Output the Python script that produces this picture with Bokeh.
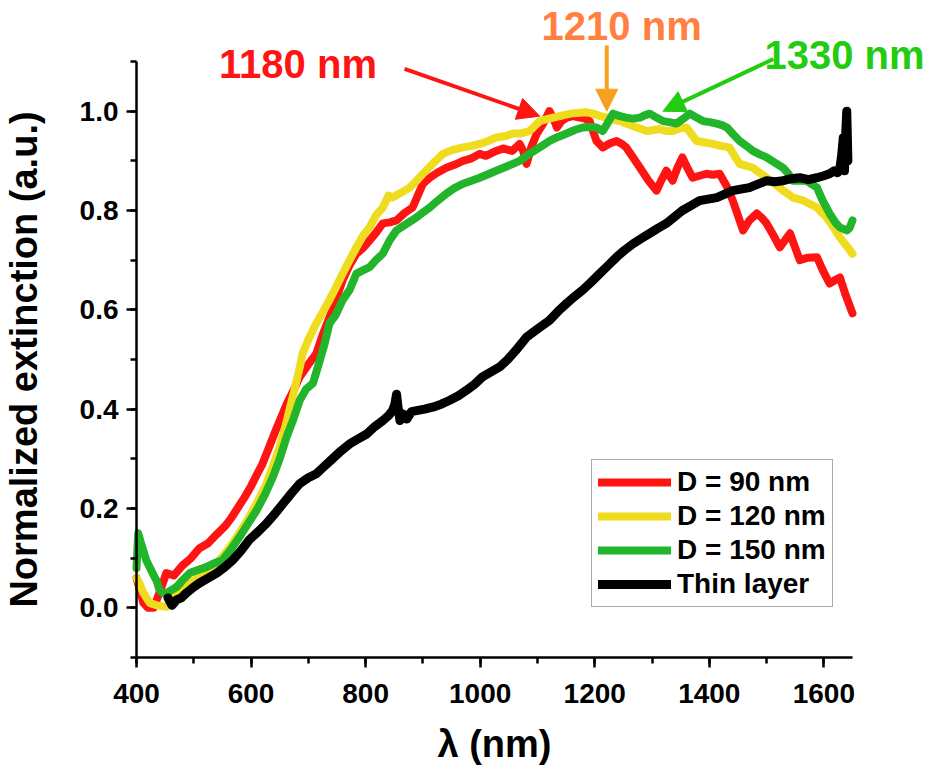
from bokeh.plotting import figure
from bokeh.models import (Range1d, SingleIntervalTicker, NumeralTickFormatter, Legend, LegendItem,
                          Label, Arrow, NormalHead)
from bokeh.embed import file_html
from bokeh.resources import INLINE

# ---------------- data ----------------
red_x = [400, 405, 412, 420, 430, 440, 452, 465, 480, 495, 510, 525, 540, 555, 565, 575, 590, 600, 610, 620,
         632, 644, 655, 662, 675, 685, 700, 714, 725, 737, 748, 760, 772, 784, 796, 807, 818, 830, 842, 854,
         868, 882, 891, 900, 912, 925, 941, 955, 970, 985, 999, 1010, 1028, 1040, 1056, 1069, 1075, 1081, 1090,
         1099, 1110, 1121, 1128, 1134, 1142, 1151, 1162, 1174, 1183, 1191, 1197, 1203, 1214, 1226, 1238, 1246,
         1255, 1265, 1279, 1294, 1308, 1316, 1325, 1336, 1344, 1353, 1362, 1371, 1383, 1395, 1406, 1418, 1430,
         1441, 1450, 1459, 1470, 1483, 1492, 1500, 1512, 1523, 1532, 1541, 1550, 1558, 1572, 1588, 1598, 1610,
         1620, 1628, 1638, 1650]
red_y = [0.06, 0.04, 0.01, 0.0, 0.0, 0.03, 0.07, 0.065, 0.085, 0.10, 0.12, 0.13, 0.148, 0.165, 0.18, 0.198,
         0.225, 0.245, 0.268, 0.29, 0.325, 0.36, 0.39, 0.41, 0.44, 0.465, 0.49, 0.512, 0.55, 0.585, 0.62, 0.66,
         0.69, 0.713, 0.725, 0.74, 0.755, 0.774, 0.776, 0.78, 0.795, 0.806, 0.83, 0.854, 0.866, 0.876, 0.886,
         0.892, 0.90, 0.905, 0.914, 0.91, 0.92, 0.925, 0.92, 0.934, 0.92, 0.894, 0.93, 0.955, 0.975, 1.0, 0.985,
         0.967, 0.98, 0.987, 0.99, 0.987, 0.985, 0.98, 0.96, 0.94, 0.927, 0.935, 0.94, 0.935, 0.927, 0.91, 0.886,
         0.86, 0.84, 0.86, 0.88, 0.86, 0.885, 0.907, 0.885, 0.866, 0.87, 0.874, 0.872, 0.874, 0.85, 0.82, 0.79,
         0.76, 0.78, 0.794, 0.785, 0.774, 0.75, 0.726, 0.74, 0.754, 0.725, 0.70, 0.705, 0.706, 0.68, 0.653, 0.66,
         0.665, 0.63, 0.593]

yel_x = [400, 405, 412, 423, 435, 452, 465, 480, 495, 510, 525, 540, 555, 568, 582, 597, 612, 627, 638, 650,
         660, 667, 676, 685, 690, 702, 714, 725, 737, 748, 760, 772, 784, 796, 807, 818, 830, 840, 847, 862,
         877, 889, 900, 918, 935, 952, 970, 985, 999, 1014, 1028, 1045, 1057, 1069, 1086, 1104, 1120, 1139,
         1157, 1174, 1185, 1197, 1210, 1221, 1232, 1244, 1255, 1267, 1279, 1291, 1303, 1313, 1325, 1336, 1348,
         1360, 1368, 1378, 1392, 1406, 1420, 1435, 1444, 1453, 1465, 1476, 1488, 1500, 1515, 1529, 1538, 1546,
         1556, 1564, 1576, 1588, 1597, 1605, 1617, 1628, 1640, 1650]
yel_y = [0.06, 0.05, 0.03, 0.01, 0.005, 0.002, 0.02, 0.036, 0.05, 0.062, 0.075, 0.09, 0.11, 0.13, 0.155,
         0.183, 0.215, 0.25, 0.285, 0.324, 0.365, 0.398, 0.44, 0.484, 0.512, 0.545, 0.573, 0.595, 0.62, 0.645,
         0.673, 0.70, 0.726, 0.75, 0.766, 0.79, 0.806, 0.83, 0.826, 0.836, 0.846, 0.86, 0.874, 0.895, 0.914,
         0.922, 0.927, 0.93, 0.934, 0.94, 0.947, 0.95, 0.955, 0.955, 0.96, 0.98, 0.985, 0.99, 0.995, 0.997,
         0.998, 0.995, 0.99, 0.987, 0.983, 0.98, 0.975, 0.97, 0.965, 0.96, 0.962, 0.964, 0.96, 0.96, 0.965,
         0.967, 0.955, 0.94, 0.937, 0.934, 0.93, 0.927, 0.91, 0.894, 0.89, 0.886, 0.876, 0.866, 0.853, 0.84,
         0.833, 0.826, 0.823, 0.82, 0.813, 0.806, 0.795, 0.786, 0.766, 0.746, 0.728, 0.713]

grn_x = [400, 403, 408, 417, 428, 435, 440, 446, 452, 460, 470, 480, 493, 507, 522, 536, 550, 565, 580, 595,
         610, 625, 638, 650, 662, 674, 685, 696, 708, 720, 728, 737, 748, 760, 772, 784, 796, 807, 818, 830,
         842, 854, 870, 889, 900, 912, 926, 941, 955, 970, 985, 999, 1014, 1028, 1043, 1057, 1069, 1086, 1104,
         1121, 1136, 1151, 1165, 1179, 1191, 1203, 1214, 1222, 1232, 1244, 1255, 1267, 1279, 1288, 1296, 1308,
         1319, 1330, 1343, 1355, 1366, 1378, 1389, 1401, 1413, 1422, 1431, 1442, 1453, 1465, 1476, 1488, 1500,
         1515, 1529, 1538, 1546, 1558, 1570, 1580, 1588, 1598, 1610, 1620, 1628, 1640, 1645, 1650]
grn_y = [0.08, 0.15, 0.13, 0.096, 0.07, 0.055, 0.036, 0.03, 0.03, 0.035, 0.042, 0.055, 0.07, 0.076, 0.082,
         0.09, 0.096, 0.118, 0.143, 0.17, 0.197, 0.23, 0.263, 0.30, 0.344, 0.38, 0.418, 0.44, 0.452, 0.498,
         0.53, 0.573, 0.59, 0.62, 0.64, 0.673, 0.68, 0.686, 0.70, 0.713, 0.74, 0.76, 0.772, 0.786, 0.796, 0.806,
         0.82, 0.834, 0.845, 0.854, 0.86, 0.866, 0.873, 0.88, 0.887, 0.894, 0.90, 0.914, 0.927, 0.94, 0.948,
         0.955, 0.962, 0.967, 0.968, 0.967, 0.96, 0.975, 0.995, 0.99, 0.987, 0.985, 0.987, 0.992, 0.995, 0.987,
         0.98, 0.978, 0.975, 0.985, 0.995, 0.987, 0.98, 0.978, 0.975, 0.972, 0.967, 0.953, 0.94, 0.93, 0.92,
         0.913, 0.907, 0.896, 0.886, 0.874, 0.86, 0.86, 0.86, 0.852, 0.846, 0.82, 0.794, 0.776, 0.766, 0.76,
         0.765, 0.78]

blk_x = [455, 462, 470, 478, 487, 498, 510, 525, 540, 554, 568, 583, 597, 612, 627, 642, 656, 670, 685, 700,
         714, 728, 742, 757, 772, 787, 802, 816, 830, 840, 847, 851, 854, 857, 860, 866, 872, 880, 889, 903,
         917, 932, 947, 962, 976, 990, 1004, 1019, 1034, 1048, 1062, 1081, 1101, 1121, 1136, 1151, 1165, 1179,
         1194, 1209, 1224, 1238, 1252, 1267, 1282, 1296, 1310, 1325, 1339, 1353, 1368, 1383, 1398, 1413, 1427,
         1441, 1455, 1470, 1485, 1500, 1514, 1529, 1543, 1558, 1573, 1588, 1600, 1610, 1618, 1624, 1628, 1631,
         1634, 1636, 1638, 1640, 1642]
blk_y = [0.02, 0.005, 0.016, 0.02, 0.03, 0.04, 0.05, 0.06, 0.07, 0.082, 0.096, 0.116, 0.137, 0.153, 0.17,
         0.19, 0.21, 0.23, 0.25, 0.262, 0.27, 0.285, 0.30, 0.316, 0.33, 0.34, 0.35, 0.365, 0.377, 0.387, 0.397,
         0.41, 0.43, 0.40, 0.377, 0.39, 0.38, 0.395, 0.397, 0.40, 0.404, 0.41, 0.418, 0.427, 0.438, 0.45, 0.465,
         0.475, 0.485, 0.50, 0.518, 0.545, 0.562, 0.579, 0.597, 0.613, 0.627, 0.64, 0.656, 0.673, 0.69, 0.706,
         0.72, 0.733, 0.744, 0.754, 0.764, 0.774, 0.787, 0.80, 0.81, 0.82, 0.823, 0.826, 0.833, 0.84, 0.843,
         0.846, 0.853, 0.86, 0.858, 0.86, 0.864, 0.866, 0.862, 0.866, 0.87, 0.874, 0.88, 0.876, 0.886, 0.91,
         0.947, 0.88, 0.95, 1.0, 0.9]

series_names = ["D = 90 nm", "D = 120 nm", "D = 150 nm", "Thin layer"]
series_colors = ["#FF1414", "#F0DC1E", "#22B42A", "#000000"]

x_axis_bounds = (400, 1650)
y_axis_bounds = (-0.1, 1.1)
x_ticks_major = 200
y_ticks_major = 0.2

peak_labels = ["1180 nm", "1210 nm", "1330 nm"]

# ---------------- figure ----------------
FONT = "Liberation Sans"
# The frame spans the whole canvas; the axes are pinned at x=400 / y=-0.1 and limited by bounds,
# so the peak annotations above and right of the axes remain visible.
p = figure(width=930, height=770, output_backend="svg", toolbar_location=None,
           x_range=Range1d(162.57, 1786.2), y_range=Range1d(-0.3275, 1.2228),
           min_border_left=0, min_border_right=0, min_border_top=0, min_border_bottom=0,
           x_axis_label="λ (nm)", y_axis_label="Normalized extinction (a.u.)")
p.outline_line_color = None
p.grid.visible = False
p.background_fill_color = "white"
p.border_fill_color = "white"

p.xaxis.ticker = SingleIntervalTicker(interval=x_ticks_major, num_minor_ticks=2)
p.yaxis.ticker = SingleIntervalTicker(interval=y_ticks_major, num_minor_ticks=2)
p.yaxis.formatter = NumeralTickFormatter(format="0.0")
p.xaxis.bounds = x_axis_bounds
p.yaxis.bounds = y_axis_bounds
p.xaxis.fixed_location = y_axis_bounds[0]
p.yaxis.fixed_location = x_axis_bounds[0]

for ax in (p.xaxis[0], p.yaxis[0]):
    ax.axis_line_width = 2.5
    ax.axis_line_color = "black"
    ax.major_tick_line_width = 2.5
    ax.minor_tick_line_width = 2.5
    ax.major_tick_out = 10
    ax.major_tick_in = 0
    ax.minor_tick_out = 6
    ax.minor_tick_in = 0
    ax.major_label_text_font = FONT
    ax.major_label_text_font_style = "bold"
    ax.major_label_text_font_size = "28px"
    ax.major_label_text_color = "black"
    ax.axis_label_text_font = FONT
    ax.axis_label_text_font_style = "bold"
    ax.axis_label_text_font_size = "38px"
    ax.axis_label_text_color = "black"

p.xaxis.major_label_standoff = 16
p.xaxis.axis_label_standoff = 17
p.yaxis.major_label_standoff = 8
p.yaxis.axis_label_standoff = 32

data = [(red_x, red_y), (yel_x, yel_y), (grn_x, grn_y), (blk_x, blk_y)]
renderers = []
for (xs, ys), c, w in zip(data, series_colors, [8, 8, 8, 9]):
    r = p.line(xs, ys, line_color=c, line_width=w, line_join="round", line_cap="round")
    renderers.append(r)

legend = Legend(items=[LegendItem(label=n, renderers=[r]) for n, r in zip(series_names, renderers)],
                location=(591, 163), orientation="vertical")
legend.label_text_font = FONT
legend.label_text_font_style = "bold"
legend.label_text_font_size = "28px"
legend.label_text_color = "black"
legend.glyph_width = 73
legend.glyph_height = 28
legend.label_height = 28
legend.spacing = 2
legend.padding = 6
legend.margin = 0
legend.label_standoff = 6
legend.border_line_color = "#555555"
legend.border_line_width = 1.5
legend.background_fill_alpha = 1.0
p.add_layout(legend)

# ---------------- annotations ----------------
ann_font = dict(text_font=FONT, text_font_style="bold", text_font_size="40px",
                text_align="center", text_baseline="middle")
p.add_layout(Label(x=682, y=1.0955, text=peak_labels[0], text_color="#FF1414", **ann_font))
p.add_layout(Label(x=1247, y=1.172, text=peak_labels[1], text_color="#FF8040", **ann_font))
p.add_layout(Label(x=1636, y=1.1136, text=peak_labels[2], text_color="#22CC11", **ann_font))

p.add_layout(Arrow(x_start=868, y_start=1.085, x_end=1104, y_end=0.99,
                   line_color="#FF1414", line_width=4,
                   end=NormalHead(size=22, fill_color="#FF1414", line_color="#FF1414")))
p.add_layout(Arrow(x_start=1221, y_start=1.132, x_end=1221, y_end=1.0,
                   line_color="#F7A020", line_width=4,
                   end=NormalHead(size=22, fill_color="#F7A020", line_color="#F7A020")))
p.add_layout(Arrow(x_start=1512, y_start=1.105, x_end=1319, y_end=1.0,
                   line_color="#22CC11", line_width=4,
                   end=NormalHead(size=22, fill_color="#22CC11", line_color="#22CC11")))

open("out.html", "w").write(file_html(p, INLINE))
